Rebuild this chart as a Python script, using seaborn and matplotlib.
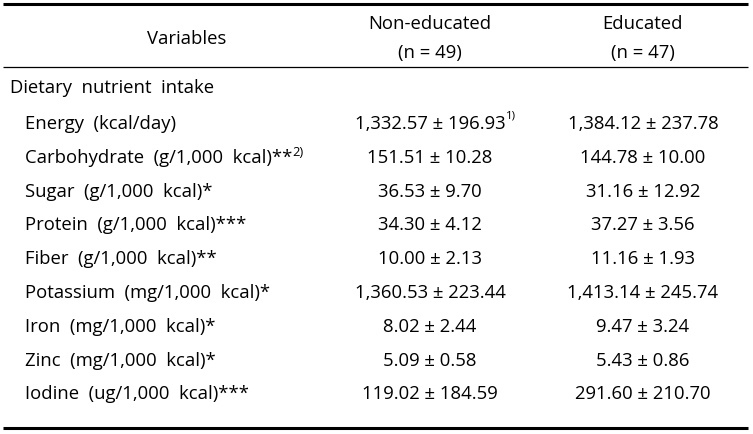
import matplotlib
matplotlib.use('Agg')
import matplotlib.pyplot as plt
import seaborn as sns

# table content
header_vars = "Variables"
groups = ["Non-educated", "Educated"]
group_n = ["(n = 49)", "(n = 47)"]
section = "Dietary  nutrient  intake"

variables = [
    "Energy  (kcal/day)",
    "Carbohydrate  (g/1,000  kcal)**",
    "Sugar  (g/1,000  kcal)*",
    "Protein  (g/1,000  kcal)***",
    "Fiber  (g/1,000  kcal)**",
    "Potassium  (mg/1,000  kcal)*",
    "Iron  (mg/1,000  kcal)*",
    "Zinc  (mg/1,000  kcal)*",
    "Iodine  (ug/1,000  kcal)***",
]
var_notes = ["", "2)", "", "", "", "", "", "", ""]

non_edu_mean = ["1,332.57", "151.51", "36.53", "34.30", "10.00", "1,360.53", "8.02", "5.09", "119.02"]
non_edu_sd = ["196.93", "10.28", "9.70", "4.12", "2.13", "223.44", "2.44", "0.58", "184.59"]
non_edu_notes = ["1)", "", "", "", "", "", "", "", ""]
edu_mean = ["1,384.12", "144.78", "31.16", "37.27", "11.16", "1,413.14", "9.47", "5.43", "291.60"]
edu_sd = ["237.78", "10.00", "12.92", "3.56", "1.93", "245.74", "3.24", "0.86", "210.70"]

sns.set_theme(style='white')
plt.rcParams['font.family'] = ['Open Sans', 'DejaVu Sans']
plt.rcParams['text.color'] = 'black'

fig = plt.figure(figsize=(7.53, 4.35), dpi=100)
ax = fig.add_axes([0, 0, 1, 1])
ax.set_xlim(0, 753)
ax.set_ylim(435, 0)
ax.axis('off')

fs = 13.3
col_x = [430, 643]

# rules
ax.plot([3, 748], [5, 5], color='black', lw=2.2, solid_capstyle='butt')
ax.plot([3, 748], [68, 68], color='black', lw=0.9, solid_capstyle='butt')
ax.plot([3, 748], [429, 429], color='black', lw=2.2, solid_capstyle='butt')

# header
ax.text(187, 39, header_vars, ha='center', va='center', fontsize=fs)
for x, g, n in zip(col_x, groups, group_n):
    ax.text(x, 24, g, ha='center', va='center', fontsize=fs)
    ax.text(x, 53, n, ha='center', va='center', fontsize=fs)

ax.text(10, 88, section, ha='left', va='center', fontsize=fs)

y0, dy = 124, 33.8
for i, name in enumerate(variables):
    y = y0 + i * dy
    t = ax.text(25, y, name, ha='left', va='center', fontsize=fs)
    if var_notes[i]:
        ax.annotate(var_notes[i], xy=(1, 1), xycoords=t, ha='left', va='top',
                    fontsize=fs * 0.7, xytext=(0, 2), textcoords='offset points')
    t1 = ax.text(col_x[0], y, f"{non_edu_mean[i]} \u00b1 {non_edu_sd[i]}",
                 ha='center', va='center', fontsize=fs)
    if non_edu_notes[i]:
        ax.annotate(non_edu_notes[i], xy=(1, 1), xycoords=t1, ha='left', va='top',
                    fontsize=fs * 0.62, xytext=(0.5, 3), textcoords='offset points')
    ax.text(col_x[1], y, f"{edu_mean[i]} \u00b1 {edu_sd[i]}",
            ha='center', va='center', fontsize=fs)

fig.savefig('out.png', dpi=100)
plt.close(fig)
